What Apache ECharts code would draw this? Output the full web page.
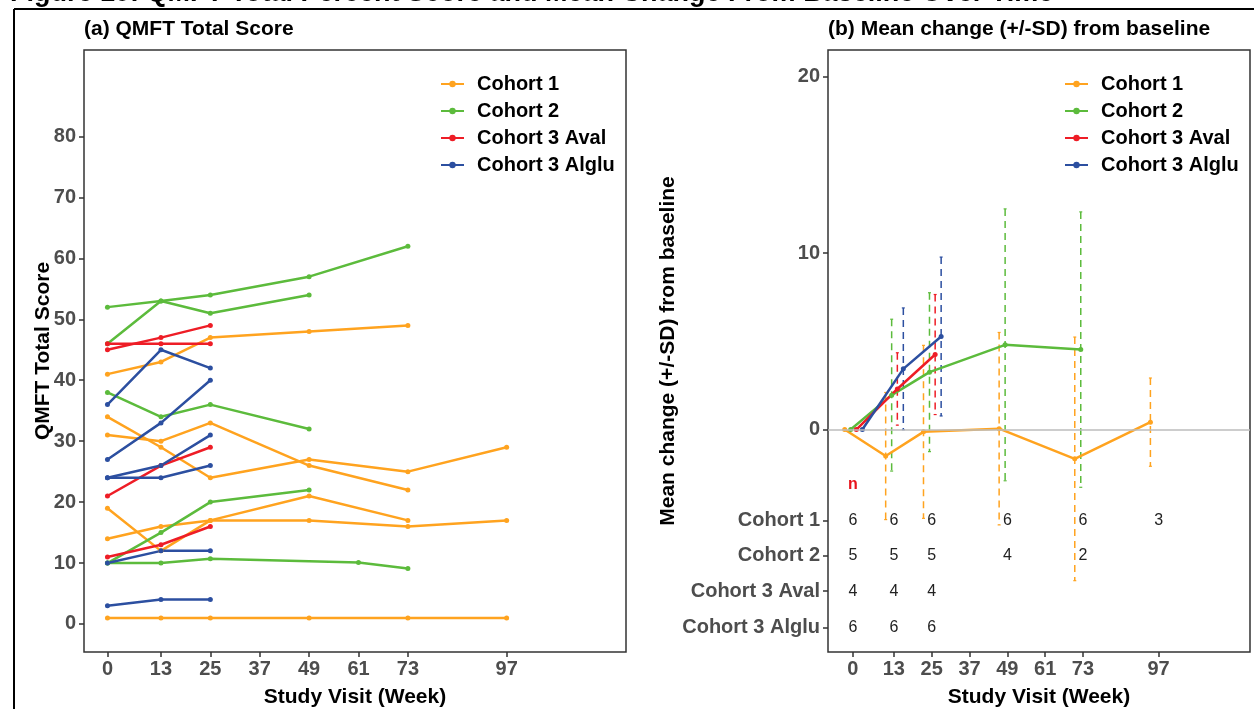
<!DOCTYPE html>
<html>
<head>
<meta charset="utf-8">
<script src="https://cdn.jsdelivr.net/npm/echarts@6/dist/echarts.min.js"></script>
<style>
  html, body { margin: 0; padding: 0; background: #fff; }
  #chart { width: 1254px; height: 709px; }
</style>
</head>
<body>
<div id="chart"></div>
<script>
// ---- data -------------------------------------------------------------
const cohortNames = ['Cohort 1', 'Cohort 2', 'Cohort 3 Aval', 'Cohort 3 Alglu'];
const cohortColors = ['#FFA31F', '#5CBB3C', '#EE1D26', '#2C4FA0'];
const weekTicks = [0, 13, 25, 37, 49, 61, 73, 97];
const scoreTicks = [0, 10, 20, 30, 40, 50, 60, 70, 80];
const changeTicks = [0, 10, 20];

// (a) individual QMFT total scores, one row per patient
const cohort1Visits = [0, 13, 25, 49, 73, 97];
const cohort1Scores = [
  [41, 43, 47, 48, 49, null],
  [34, 29, 24, 27, 25, 29],
  [31, 30, 33, 26, 22, null],
  [19, 12, 17, 21, 17, null],
  [14, 16, 17, 17, 16, 17],
  [1, 1, 1, 1, 1, 1]
];
const cohort2Visits = [0, 13, 25, 49, 61, 73];
const cohort2Scores = [
  [52, 53, 54, 57, null, 62],
  [46, 53, 51, 54, null, null],
  [38, 34, 36, 32, null, null],
  [10, 15, 20, 22, null, null],
  [10, 10, 10.7, null, 10.1, 9.1]
];
const avalVisits = [0, 13, 25];
const avalScores = [
  [45, 47, 49],
  [46, 46, 46],
  [21, 26, 29],
  [11, 13, 16]
];
const algluVisits = [0, 13, 25];
const algluScores = [
  [36, 45, 42],
  [27, 33, 40],
  [24, 26, 31],
  [24, 24, 26],
  [10, 12, 12],
  [3, 4, 4]
];

// (b) mean change from baseline and SD per visit
const changeVisits = [0, 13, 25, 49, 73, 97];
const cohort1Mean = [0, -1.5, -0.13, 0.05, -1.66, 0.42];
const cohort1SD   = [0, 3.6, 4.9, 5.45, 6.9, 2.5];
const cohort2Mean = [0, 1.95, 3.25, 4.8, 4.53, null];
const cohort2SD   = [0, 4.3, 4.5, 7.7, 7.8, null];
const avalMean    = [0, 2.3, 4.25];
const avalSD      = [0, 2.05, 3.4];
const algluMean   = [0, 3.44, 5.27];
const algluSD     = [0, 3.45, 4.5];
const dodgeWeeks  = [-2.6, -0.7, 1.1, 3.0];

// number of patients per visit
const cohort1N = [6, 6, 6, 6, 6, 3];
const cohort2N = [5, 5, 5, 4, 2, null];
const avalN    = [4, 4, 4];
const algluN   = [6, 6, 6];
const nRowLevels = [-5.15, -7.15, -9.15, -11.2];
const nHeaderLevel = -3.1;

// ---- styling ------------------------------------------------------------
const FONT = "'Liberation Sans', Arial, sans-serif";
const TICK_GREY = '#4d4d4d';
const BOX = '#333333';

function pairs(visits, values) {
  return visits.map((w, j) => [w, values[j]]).filter(d => d[1] != null);
}

function patientSeries(ci, visits, rows) {
  return rows.map(row => ({
    name: cohortNames[ci],
    type: 'line',
    xAxisIndex: 0, yAxisIndex: 0,
    data: pairs(visits, row),
    symbol: 'circle', symbolSize: 5,
    itemStyle: { color: cohortColors[ci] },
    lineStyle: { color: cohortColors[ci], width: 2.5 },
    emphasis: { disabled: true },
    animation: false,
    z: 3
  }));
}

const meanSets = [
  [cohort1Mean, cohort1SD], [cohort2Mean, cohort2SD],
  [avalMean, avalSD], [algluMean, algluSD]
];

const meanSeries = meanSets.map(([m, s], ci) => ({
  name: cohortNames[ci],
  type: 'line',
  xAxisIndex: 1, yAxisIndex: 1,
  data: changeVisits.map((w, j) => [w + dodgeWeeks[ci], m[j]]).filter(d => d[1] != null),
  symbol: 'circle', symbolSize: 5,
  itemStyle: { color: cohortColors[ci] },
  lineStyle: { color: cohortColors[ci], width: 2.5 },
  emphasis: { disabled: true },
  animation: false,
  z: 4
}));

const errorSeries = meanSets.map(([m, s], ci) => ({
  name: cohortNames[ci],
  type: 'custom',
  xAxisIndex: 1, yAxisIndex: 1,
  data: changeVisits.map((w, j) => [w + dodgeWeeks[ci], m[j], s[j]])
                    .filter(d => d[1] != null && d[2] > 0),
  renderItem: function (params, api) {
    const x = api.value(0), mean = api.value(1), sd = api.value(2);
    const top = api.coord([x, mean + sd]);
    const bot = api.coord([x, mean - sd]);
    return {
      type: 'group',
      children: [
        { type: 'line', shape: { x1: top[0], y1: top[1], x2: bot[0], y2: bot[1] },
          style: { stroke: cohortColors[ci], lineWidth: 1.5, lineDash: [7, 5] } },
        { type: 'line', shape: { x1: top[0] - 1.5, y1: top[1], x2: top[0] + 1.5, y2: top[1] },
          style: { stroke: cohortColors[ci], lineWidth: 1.2 } },
        { type: 'line', shape: { x1: bot[0] - 1.5, y1: bot[1], x2: bot[0] + 1.5, y2: bot[1] },
          style: { stroke: cohortColors[ci], lineWidth: 1.2 } }
      ]
    };
  },
  animation: false,
  silent: true,
  z: 2
}));

// zero reference line in panel (b)
const zeroLine = {
  type: 'line', xAxisIndex: 1, yAxisIndex: 1, data: [],
  silent: true, animation: false, z: 1,
  markLine: {
    silent: true, symbol: 'none', animation: false,
    label: { show: false },
    lineStyle: { color: '#bdbdbd', width: 1.5, type: 'solid' },
    data: [{ yAxis: 0 }]
  }
};

// patient counts table under panel (b)
const nTable = [cohort1N, cohort2N, avalN, algluN];
const nCells = [];
nTable.forEach((counts, r) => counts.forEach((n, j) => {
  if (n != null) nCells.push([changeVisits[j], nRowLevels[r], n]);
}));
const nSeries = {
  type: 'custom', xAxisIndex: 1, yAxisIndex: 1, silent: true, animation: false,
  data: nCells,
  renderItem: function (params, api) {
    const p = api.coord([api.value(0), api.value(1)]);
    return { type: 'text', x: p[0], y: p[1],
      style: { text: String(api.value(2)), align: 'center', verticalAlign: 'middle',
               font: '16px ' + FONT, fill: '#222' } };
  },
  z: 5
};
const nHeader = {
  type: 'custom', xAxisIndex: 1, yAxisIndex: 1, silent: true, animation: false,
  data: [[0, nHeaderLevel]],
  renderItem: function (params, api) {
    const p = api.coord([api.value(0), api.value(1)]);
    return { type: 'text', x: p[0], y: p[1],
      style: { text: 'n', align: 'center', verticalAlign: 'middle',
               font: 'bold 16px ' + FONT, fill: '#E8141C' } };
  },
  z: 5
};

const rowLabel = {};
nRowLevels.forEach((v, i) => { rowLabel[v] = cohortNames[i]; });

function axisTickStyle(values) {
  return { show: true, length: 5, customValues: values,
           lineStyle: { color: BOX, width: 1.5 } };
}
function axisLabelStyle(values, margin, formatter) {
  return { show: true, customValues: values, margin: margin,
           color: TICK_GREY, fontSize: 20, fontWeight: 'bold', fontFamily: FONT,
           formatter: formatter };
}
const hiddenLine = { show: false, onZero: false };

const legendBase = {
  data: cohortNames,
  orient: 'vertical',
  top: 69,
  itemWidth: 23, itemHeight: 8, itemGap: 7,
  selectedMode: false,
  textStyle: { fontSize: 20, fontWeight: 'bold', color: '#000', fontFamily: FONT,
               padding: [0, 0, 0, 8], lineHeight: 20 }
};

const titleFont = 'bold 21px ' + FONT;

const option = {
  backgroundColor: '#fff',
  animation: false,
  textStyle: { fontFamily: FONT },
  grid: [
    { left: 84, top: 50, width: 542, height: 602, show: true,
      borderColor: BOX, borderWidth: 1.5, backgroundColor: 'transparent' },
    { left: 828, top: 50, width: 422, height: 602, show: true,
      borderColor: BOX, borderWidth: 1.5, backgroundColor: 'transparent' }
  ],
  xAxis: [
    { type: 'value', gridIndex: 0, min: -5.7, max: 126,
      axisLine: hiddenLine, splitLine: { show: false },
      axisTick: axisTickStyle(weekTicks),
      axisLabel: axisLabelStyle(weekTicks, 7) },
    { type: 'value', gridIndex: 1, min: -7.9, max: 126,
      axisLine: hiddenLine, splitLine: { show: false },
      axisTick: axisTickStyle(weekTicks),
      axisLabel: axisLabelStyle(weekTicks, 7) }
  ],
  yAxis: [
    { type: 'value', gridIndex: 0, min: -4.6, max: 94.2,
      axisLine: hiddenLine, splitLine: { show: false },
      axisTick: axisTickStyle(scoreTicks),
      axisLabel: axisLabelStyle(scoreTicks, 8) },
    { type: 'value', gridIndex: 1, min: -12.6, max: 21.5,
      axisLine: hiddenLine, splitLine: { show: false },
      axisTick: axisTickStyle(changeTicks.concat(nRowLevels)),
      axisLabel: axisLabelStyle(changeTicks.concat(nRowLevels), 8,
        v => (rowLabel[v] !== undefined ? rowLabel[v] : String(v))) }
  ],
  legend: [
    Object.assign({}, legendBase, { left: 435 }),
    Object.assign({}, legendBase, { left: 1059 })
  ],
  graphic: [
    // outer frame
    { type: 'line', shape: { x1: 14, y1: 9, x2: 14, y2: 709 },
      style: { stroke: '#000', lineWidth: 2 } },
    { type: 'line', shape: { x1: 14, y1: 9, x2: 1254, y2: 9 },
      style: { stroke: '#000', lineWidth: 2 } },
    // figure caption
    { type: 'text', x: 10, y: 7,
      style: { text: 'Figure 10: QMFT Total Percent Score and Mean Change From Baseline Over Time',
               font: 'bold 27px ' + FONT, fill: '#000', verticalAlign: 'bottom' } },
    // panel titles
    { type: 'text', x: 84, y: 29,
      style: { text: '(a) QMFT Total Score', font: titleFont, fill: '#000',
               verticalAlign: 'middle' } },
    { type: 'text', x: 828, y: 29,
      style: { text: '(b) Mean change (+/-SD) from baseline', font: titleFont, fill: '#000',
               verticalAlign: 'middle' } },
    // axis titles
    { type: 'text', x: 355, y: 697,
      style: { text: 'Study Visit (Week)', font: titleFont, fill: '#000',
               align: 'center', verticalAlign: 'middle' } },
    { type: 'text', x: 1039, y: 697,
      style: { text: 'Study Visit (Week)', font: titleFont, fill: '#000',
               align: 'center', verticalAlign: 'middle' } },
    { type: 'text', x: 43, y: 351, rotation: Math.PI / 2,
      style: { text: 'QMFT Total Score', font: titleFont, fill: '#000',
               align: 'center', verticalAlign: 'middle' } },
    { type: 'text', x: 668, y: 351, rotation: Math.PI / 2,
      style: { text: 'Mean change (+/-SD) from baseline', font: titleFont, fill: '#000',
               align: 'center', verticalAlign: 'middle' } }
  ],
  series: []
    .concat(patientSeries(0, cohort1Visits, cohort1Scores))
    .concat(patientSeries(1, cohort2Visits, cohort2Scores))
    .concat(patientSeries(2, avalVisits, avalScores))
    .concat(patientSeries(3, algluVisits, algluScores))
    .concat([zeroLine])
    .concat(errorSeries)
    .concat(meanSeries)
    .concat([nHeader, nSeries])
};

const chart = echarts.init(document.getElementById('chart'), null, { renderer: 'canvas' });
chart.setOption(option);
</script>
</body>
</html>
